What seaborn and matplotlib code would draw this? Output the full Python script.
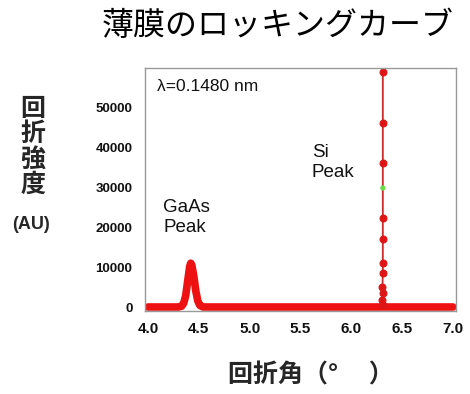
import numpy as np
import pandas as pd
import seaborn as sns
import matplotlib.pyplot as plt

# broad curve: baseline + GaAs peak
x_broad = [4.00, 4.20, 4.30, 4.33, 4.35, 4.37, 4.39, 4.41, 4.42, 4.43, 4.45, 4.47,
           4.49, 4.51, 4.54, 5.00, 5.50, 6.00, 6.29, 6.33, 6.50, 7.00]
y_broad = [0, 0, 0, 200, 900, 2800, 6500, 10200, 11000, 10600, 7800, 4000,
           1500, 400, 0, 0, 0, 0, 0, 0, 0, 0]

# Si peak points
x_si = [6.310, 6.305, 6.312, 6.306, 6.310, 6.310, 6.310, 6.310, 6.310, 6.310, 6.310]
y_si = [600, 1800, 3500, 5000, 8500, 11000, 17100, 22400, 36200, 46200, 59100]
x_green = [6.310]
y_green = [29900]

xticks = [4.0, 4.5, 5.0, 5.5, 6.0, 6.5, 7.0]
yticks = [0, 10000, 20000, 30000, 40000, 50000]

sns.set_theme(style="white")
plt.rcParams['font.family'] = ['Liberation Sans', 'Noto Sans CJK JP', 'DejaVu Sans']
cjk = ['Noto Sans CJK JP', 'DejaVu Sans']

broad = pd.DataFrame({'angle': x_broad, 'intensity': y_broad})
si = pd.DataFrame({'angle': x_si, 'intensity': y_si})
green = pd.DataFrame({'angle': x_green, 'intensity': y_green})

fig = plt.figure(figsize=(4.70, 3.94), dpi=100)
ax = fig.add_axes([0.3085, 0.2107, 0.6617, 0.6175])

sns.lineplot(x='angle', y='intensity', data=broad, ax=ax, color='#ee1111',
             linewidth=5.5, sort=False, estimator=None, solid_capstyle='round')
sns.lineplot(x='angle', y='intensity', data=si, ax=ax, color='#cc2a2a',
             linewidth=1.3, sort=False, estimator=None, marker='o', markersize=5,
             markerfacecolor='#dd1515', markeredgecolor='#dd1515')
sns.scatterplot(x='angle', y='intensity', data=green, ax=ax, color='#66dd44',
                s=14, edgecolor='none', zorder=5)

ax.set_xlim(3.97, 7.03)
ax.set_ylim(-1000, 60100)
ax.set_xticks(xticks)
ax.set_yticks(yticks)
ax.set_xticklabels([f'{v:.1f}' for v in xticks], fontsize=11, fontweight='bold')
ax.set_yticklabels([str(v) for v in yticks], fontsize=9.5, fontweight='bold')
ax.tick_params(axis='both', direction='out', length=5, width=1, color='#999999',
               labelcolor='#111111')
ax.tick_params(axis='y', pad=4)
ax.tick_params(axis='x', pad=3)
ax.set_xlabel('')
ax.set_ylabel('')
for s in ax.spines.values():
    s.set_color('#999999')
    s.set_linewidth(1)

ax.text(4.09, 55300, 'λ=0.1480 nm', fontsize=12.5, va='center', ha='left', color='#111111')
ax.text(4.15, 22400, 'GaAs\nPeak', fontsize=13.5, va='center', ha='left',
        linespacing=1.25, color='#111111')
ax.text(5.61, 36200, 'Si\nPeak', fontsize=13.5, va='center', ha='left',
        linespacing=1.25, color='#111111')

fig.text(0.590, 0.934, '薄膜のロッキングカーブ', fontsize=23, ha='center', va='center',
         family=cjk, color='#000000')
fig.text(0.070, 0.627, '回\n折\n強\n度', fontsize=18, ha='center', va='center',
         family=cjk, fontweight='bold', linespacing=1.07)
fig.text(0.067, 0.429, '(AU)', fontsize=13, ha='center', va='center', fontweight='bold')
fig.text(0.662, 0.046, '回折角（° \u3000）', fontsize=18, ha='center', va='center',
         family=cjk, fontweight='bold')

fig.savefig('out.png', dpi=100)
